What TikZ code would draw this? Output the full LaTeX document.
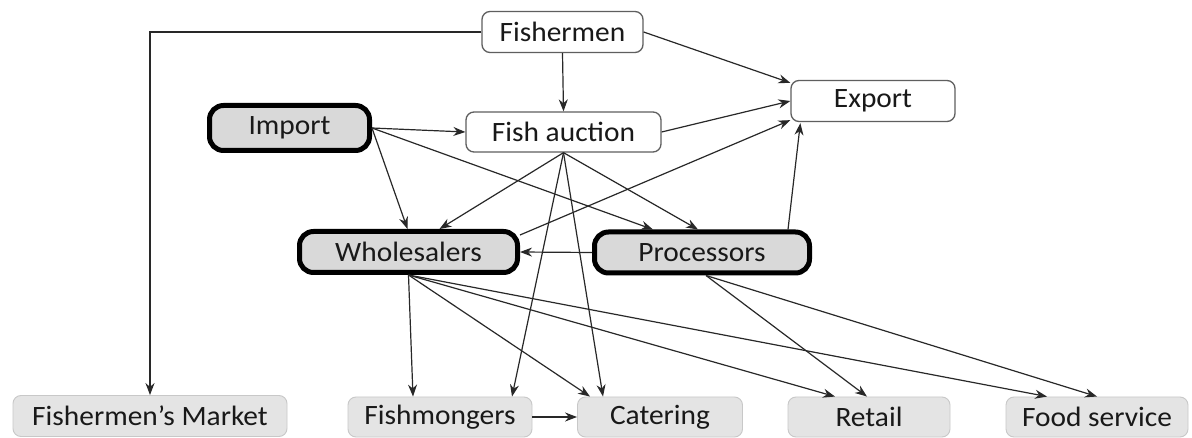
\documentclass[tikz,border=0pt]{standalone}
\usepackage{fontspec}
\setmainfont{Carlito}[FakeStretch=1.05]
\usetikzlibrary{arrows.meta}
\definecolor{txt}{RGB}{25,25,25}
\definecolor{arr}{RGB}{40,40,40}
\definecolor{thickfill}{RGB}{217,217,217}
\definecolor{lowfill}{RGB}{228,228,228}
\definecolor{lowline}{RGB}{200,200,200}
\definecolor{thinline}{RGB}{95,95,95}
\begin{document}
\begin{tikzpicture}[x=1pt,y=-1pt,
  every node/.style={font=\fontsize{28}{32}\selectfont, text=txt, inner sep=0pt},
  whitebox/.style={draw=thinline, line width=1.3pt, fill=white, rounded corners=8pt},
  keybox/.style={draw=black, line width=5pt, fill=thickfill, rounded corners=14pt},
  endbox/.style={draw=lowline, line width=0.9pt, fill=lowfill, rounded corners=8pt},
  flow/.style={draw=arr, line width=1.2pt, -{Stealth[length=12pt,width=9pt]}}]
\useasboundingbox (0,0) rectangle (1192,438);
\fill[white] (0,0) rectangle (1192,438);
% nodes
\node[whitebox, minimum width=161pt, minimum height=41pt] (fm) at (562.5,32) {Fishermen};
\node[whitebox, minimum width=164pt, minimum height=41pt] (ex) at (873,101) {Export};
\node[keybox, minimum width=160pt, minimum height=45pt] (im) at (289.5,128) {Import};
\node[whitebox, minimum width=195pt, minimum height=40pt] (fa) at (563.5,132) {Fish auction};
\node[keybox, minimum width=218pt, minimum height=41pt] (ws) at (408.5,252) {Wholesalers};
\node[keybox, minimum width=215pt, minimum height=41pt] (pr) at (702,252.5) {Processors};
\node[endbox, minimum width=274pt, minimum height=41pt] (mk) at (150,416) {Fishermen’s Market};
\node[endbox, minimum width=184pt, minimum height=40pt] (fg) at (440,417) {Fishmongers};
\node[endbox, minimum width=165pt, minimum height=40pt] (ct) at (660,417) {Catering};
\node[endbox, minimum width=162pt, minimum height=40pt] (rt) at (869,417) {Retail};
\node[endbox, minimum width=182pt, minimum height=40pt] (fs) at (1097,417) {Food service};
% connectors
\draw[flow] (fm.west) -| (mk.north);
\draw[flow] (fm.south) -- (fa.north);
\draw[flow] (fm.east) -- ([yshift=-3pt]ex.north west);
\draw[flow] (fa.east) -- (ex.west);
\draw[flow] (im.east) -- (fa.west);
\draw[flow] (im.east) -- ([xshift=-1pt]ws.north);
\draw[flow] (im.east) -- ([xshift=-49pt]pr.north);
\draw[flow] (fa.south) -- ([xshift=31pt]ws.north);
\draw[flow] (fa.south) -- ([xshift=-4pt]pr.north);
\draw[flow] (fa.south) -- ([xshift=72pt]fg.north);
\draw[flow] (fa.south) -- ([xshift=-57pt]ct.north);
\draw[flow] ([yshift=-6pt]ws.north east) -- ([yshift=2pt]ex.south west);
\draw[flow] ([xshift=86pt]pr.north) -- ([xshift=10pt,yshift=-1pt]ex.south west);
\draw[flow] (pr.west) -- (ws.east);
\draw[flow] (ws.south) -- ([xshift=-27pt]fg.north);
\draw[flow] (ws.south) -- ([xshift=-70pt]ct.north);
\draw[flow] (ws.south) -- ([xshift=-34pt]rt.north);
\draw[flow] (ws.south) -- ([xshift=-50pt]fs.north);
\draw[flow] ([xshift=4pt]pr.south) -- ([xshift=-2pt]rt.north);
\draw[flow] ([xshift=4pt]pr.south) -- (fs.north);
\draw[flow] (fg.east) -- (ct.west);
\end{tikzpicture}
\end{document}
